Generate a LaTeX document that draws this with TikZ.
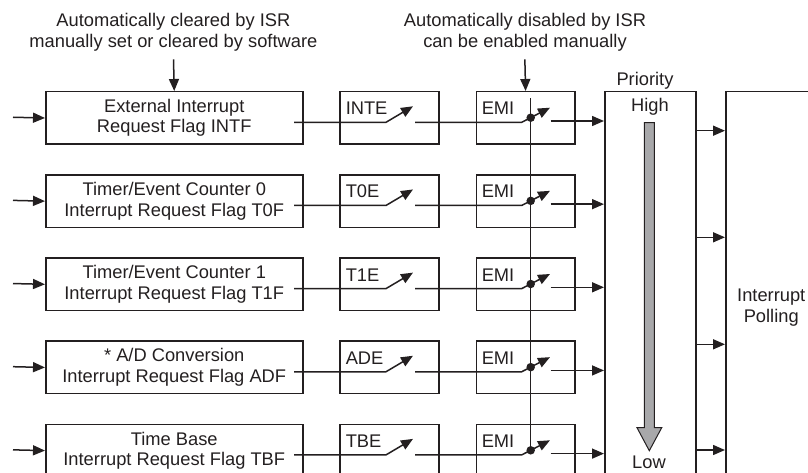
\documentclass[tikz,border=0pt]{standalone}
\usepackage{fontspec}
\setmainfont{Liberation Sans}
\usetikzlibrary{arrows.meta,calc}
\definecolor{arrowgray}{RGB}{168,168,170}
\definecolor{ink}{RGB}{35,31,32}
\begin{document}
\begin{tikzpicture}[x=1pt,y=-1pt,line width=1.5pt,draw=ink,
  font=\fontsize{18.3}{20.5}\selectfont,
  box/.style={draw=ink,line width=1.5pt,inner sep=0pt,anchor=north west,minimum height=52.5pt},
  arr/.style={-{Triangle[length=12pt,width=10pt]}},
  lbl/.style={anchor=base west,inner sep=0pt,text=ink},
  txt/.style={inner sep=0pt,text=ink,align=center},
  dotnode/.style={circle,fill=ink,inner sep=0pt,minimum size=8.5pt}]
\useasboundingbox (0,0) rectangle (808,473);
\clip (0,0) rectangle (808,473);

% priority and polling blocks
\node[box,minimum width=91pt,minimum height=432pt] (prio) at (604,91) {};
\node[box,minimum width=91pt,minimum height=432pt,align=center,text=ink] (poll) at (725,91) {Interrupt\\Polling};
\node[anchor=base,inner sep=0pt,text=ink] (priolbl) at (645,85.7) {Priority};
\node[anchor=base,inner sep=0pt,text=ink] (high) at (650,112) {High};
\node[anchor=base,inner sep=0pt,text=ink] (low) at (649,468.3) {Low};
\draw[line width=1pt,fill=arrowgray] (644.3,122.7) -- (654.3,122.7) -- (654.3,427.7) -- (661.7,427.7)
  -- (649.3,450.7) -- (637,427.7) -- (644.3,427.7) -- cycle;

\foreach \y [count=\i] in {130.7,237.3,344.3,450} {
  \coordinate (q\i) at (695,\y);
  \draw[arr] (q\i) -- (q\i -| poll.west);
}

% rows
\foreach \k/\a/\b/\e in {0/External Interrupt/Request Flag INTF/INTE,
    1/Timer\slash Event Counter 0/Interrupt Request Flag T0F/T0E,
    2/Timer\slash Event Counter 1/Interrupt Request Flag T1F/T1E,
    3/* A\slash D Conversion/Interrupt Request Flag ADF/ADE,
    4/Time Base/Interrupt Request Flag TBF/TBE} {
  \pgfmathsetmacro{\t}{91+83.15*\k}
  \node[box,minimum width=257pt,align=center,text=ink] (flag\k) at (45,\t) {\a\\\b};
  \node[box,minimum width=98.7pt] (en\k) at (339.3,\t) {};
  \node[lbl] (enl\k) at (345,{\t+23.8}) {\e};
  \node[box,minimum width=98.3pt] (emi\k) at (475.7,\t) {};
  \node[lbl] (emil\k) at (481,{\t+23.8}) {EMI};
  \coordinate (in\k) at (13,{\t+26.25});
  \draw[arr] (in\k) -- (flag\k.west);
  \coordinate (s\k) at (294,{\t+31.3});
  \coordinate (sw\k) at (386,{\t+31.3});
  \coordinate (st\k) at (413,{\t+15.3});
  \draw[arr] (s\k) -- (sw\k) -- (st\k);
  \coordinate (e\k) at (415,{\t+31.3});
  \coordinate (ew\k) at (521.7,{\t+31.3});
  \coordinate (et\k) at (550,{\t+16.7});
  \draw[arr] (e\k) -- (ew\k) -- (et\k);
  \node[dotnode] (dot\k) at (530.7,{\t+26.7}) {};
  \coordinate (o\k) at (550.7,{\t+30});
  \draw[arr] (o\k) -- (o\k -| prio.west);
}

% common EMI line
\coordinate (vtop) at (530.7,98.3);
\draw (vtop) -- (dot4.center);

% annotations
\node[txt] (ann1) at (173.4,32.2) {Automatically cleared by ISR\\manually set or cleared by software};
\coordinate (a1) at (173.5,59.3);
\draw[arr] (a1) -- (flag0.north);
\node[txt] (ann2) at (525,32.2) {Automatically disabled by ISR\\can be enabled manually};
\coordinate (a2) at (524.85,59.3);
\draw[arr] (a2) -- (emi0.north);
\end{tikzpicture}
\end{document}
